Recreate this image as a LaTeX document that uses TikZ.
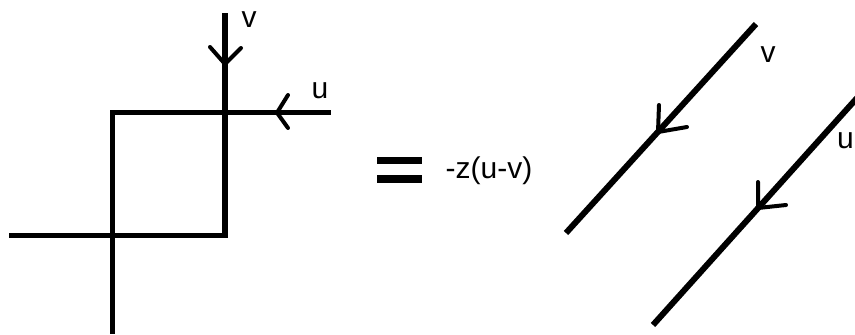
\documentclass[tikz,border=0pt]{standalone}
\usepackage{fontspec}
\setmainfont{Liberation Sans}
\tikzset{
  thickline/.style={line width=5.3pt},
  diagline/.style={line width=6pt},
  barb/.style={line width=4pt,line cap=round,line join=miter},
  lbl/.style={font=\fontsize{30}{30}\selectfont,inner sep=0pt},
  eqbar/.style={fill=black,draw=none,minimum width=45pt,minimum height=7.5pt,inner sep=0pt}
}
\begin{document}
\begin{tikzpicture}[x=1pt,y=-1pt]
  \useasboundingbox (0,0) rectangle (855,335);
  \coordinate (sqtl) at (110,112.7);
  \coordinate (sqtr) at (225,112.7);
  \coordinate (sqbr) at (225,238);
  \coordinate (sqbl) at (112.7,235.7);
  \coordinate (vtop) at (225,13);
  \coordinate (uend) at (331,112.7);
  \coordinate (leftend) at (9,235.7);
  \coordinate (rightend) at (228,235.7);
  \coordinate (downtop) at (112.7,110);
  \coordinate (downend) at (112.7,334);
  \draw[thickline] (vtop) -- (sqbr);
  \draw[thickline] (sqtl) -- (uend);
  \draw[thickline] (leftend) -- (rightend);
  \draw[thickline] (downtop) -- (downend);
  \coordinate (vtip) at (225,64);
  \coordinate (utip) at (277,112.7);
  \draw[barb] (210,47) -- (vtip) -- (241,48);
  \draw[barb] (288,95) -- (utip) -- (288,128);
  \node[lbl] (vlabel) at (249,20) {v};
  \node[lbl] (ulabel) at (320,91) {u};
  \node[eqbar] (eqtop) at (399.5,160.5) {};
  \node[eqbar] (eqbot) at (399.5,179) {};
  \node[lbl] (result) at (489,171) {-z(u-v)};
  \coordinate (aone) at (756,24);
  \coordinate (bone) at (566,233);
  \coordinate (atwo) at (857,98);
  \coordinate (btwo) at (653,325);
  \draw[diagline] (aone) -- (bone);
  \draw[diagline] (atwo) -- (btwo);
  \coordinate (tipone) at (658,132);
  \coordinate (tiptwo) at (758,208);
  \draw[barb] (659,105) -- (tipone) -- (687,127);
  \draw[barb] (758,182) -- (tiptwo) -- (786,205);
  \node[lbl] (vright) at (768,55) {v};
  \node[lbl,anchor=east] (uright) at (854,141) {u};
\end{tikzpicture}
\end{document}
